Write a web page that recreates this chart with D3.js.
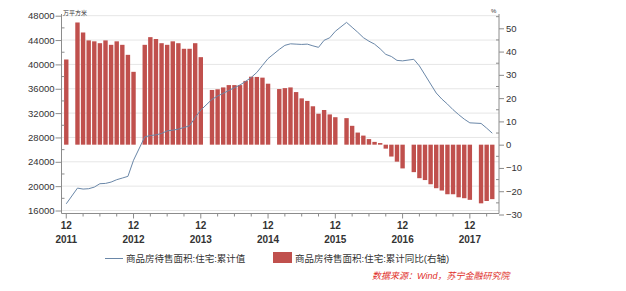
<!DOCTYPE html>
<html>
<head>
<meta charset="utf-8">
<script src="https://cdn.jsdelivr.net/npm/d3@7"></script>
<style>
  body { margin: 0; background: #fff; }
  svg { display: block; font-family: "Liberation Sans", Arial, "Noto Sans CJK SC", sans-serif; }
</style>
</head>
<body>
<div id="chart"></div>
<script>
// months: Dec 2011 .. Apr 2018 (Jan has no data, Jan+Feb are reported together)
const months = d3.timeMonth.range(new Date(2011, 11, 1), new Date(2018, 4, 1));

// 商品房待售面积:住宅:累计值 (万平方米)
const stock = [
  17100, null,
  19680, 19520, 19580, 19840, 20400, 20450, 20670, 21060, 21330, 21610, 24250, null,
  28090, 28320, 28420, 28650, 29080, 29200, 29360, 29640, 29910, 31270, 32490, null,
  34260, 34800, 35250, 35710, 36170, 36620, 37210, 37860, 38680, 39830, 40960, null,
  42460, 43130, 43380, 43330, 43280, 43330, 43050, 42800, 43960, 44370, 45440, null,
  46900, 46090, 45280, 44400, 43810, 43330, 42560, 41650, 41300, 40660, 40580, null,
  40840, 39750, 38270, 36780, 35300, 34310, 33480, 32560, 31750, 31010, 30400, null,
  30300, 29530, 28700
];

// 商品房待售面积:住宅:累计同比 (%, right axis)
const growth = [
  36.6, null,
  52.5, 48.2, 44.8, 44.4, 43.6, 44.8, 42.9, 44.4, 42.9, 38.6, 31.3, null,
  42.9, 46.2, 45.4, 43.6, 42.9, 44.4, 43.6, 41.2, 41.2, 43.6, 37.6, null,
  23.5, 23.8, 24.6, 25.6, 25.6, 25.6, 27.4, 29.2, 29.1, 28.8, 26.2, null,
  23.9, 24.3, 24.6, 22.6, 19.9, 18.8, 16.5, 13.3, 14.9, 13.0, 11.8, null,
  11.4, 8.1, 5.2, 3.9, 2.4, 1.2, 0.7, -1.7, -5.1, -7.3, -10.2, null,
  -11.8, -14.4, -15.2, -17.0, -18.7, -19.7, -21.3, -21.3, -22.6, -23.0, -23.7, null,
  -25.2, -24.2, -23.4
];

const leftTicks = [16000, 20000, 24000, 28000, 32000, 36000, 40000, 44000, 48000];
const rightTicks = [-30, -20, -10, 0, 10, 20, 30, 40, 50];
const legendLabels = ['商品房待售面积:住宅:累计值', '商品房待售面积:住宅:累计同比(右轴)'];
const sourceNote = '数据来源：Wind，苏宁金融研究院';

const data = months.map((m, i) => ({ date: m, i: i, stock: stock[i], growth: growth[i] }));

const W = 626, H = 291;
const plot = { left: 61.5, right: 499, top: 14, bottom: 213.5 };
const lineColor = '#6a87a8', barColor = '#c0504d', axisColor = '#8c8c8c', textColor = '#333';

const svg = d3.select('#chart').append('svg')
  .attr('width', W).attr('height', H);

// scales
const x = d3.scaleLinear().domain([-0.85, 77.2]).range([plot.left, plot.right]);
const yL = d3.scaleLinear().domain([16000, 48000]).range([210.5, 15.7]);
const yR = d3.scaleLinear().domain([-30, 50]).range([214.5, 28.3]);
const barW = 4.4;

// gridlines
svg.append('g').attr('class', 'grid')
  .selectAll('line').data(leftTicks).join('line')
  .attr('x1', plot.left).attr('x2', plot.right)
  .attr('y1', d => yL(d)).attr('y2', d => yL(d))
  .attr('stroke', '#e6e6e6').attr('stroke-width', 1);

// bars
svg.append('g').attr('class', 'bars')
  .selectAll('rect').data(data.filter(d => d.growth != null)).join('rect')
  .attr('x', d => x(d.i) - barW / 2)
  .attr('width', barW)
  .attr('y', d => Math.min(yR(d.growth), yR(0)))
  .attr('height', d => Math.abs(yR(d.growth) - yR(0)))
  .attr('fill', barColor);

// line (skips the missing January points, joining Dec to Feb)
const line = d3.line()
  .x(d => x(d.i))
  .y(d => yL(d.stock));
svg.append('path')
  .datum(data.filter(d => d.stock != null))
  .attr('d', line)
  .attr('fill', 'none')
  .attr('stroke', lineColor)
  .attr('stroke-width', 1);

// left axis
const leftAxis = d3.axisLeft(yL).tickValues(leftTicks).tickSize(6).tickPadding(1).tickFormat(d3.format('d'));
const gL = svg.append('g').attr('transform', `translate(${plot.left},0)`).call(leftAxis);
gL.select('.domain').remove();
gL.append('line').attr('y1', plot.top).attr('y2', plot.bottom).attr('stroke', axisColor);
gL.selectAll('.tick line').attr('stroke', axisColor);
gL.selectAll('.tick text').attr('fill', textColor).attr('font-size', 9.5)
  .attr('font-family', '"Liberation Sans", Arial, sans-serif');
gL.selectAll('.minor').data(d3.range(18000, 48000, 4000)).join('line')
  .attr('class', 'minor')
  .attr('x1', 0).attr('x2', 3)
  .attr('y1', d => yL(d)).attr('y2', d => yL(d))
  .attr('stroke', axisColor);

// right axis
const rightAxis = d3.axisRight(yR).tickValues(rightTicks).tickSize(5).tickPadding(2);
const gR = svg.append('g').attr('transform', `translate(${plot.right},0)`).call(rightAxis);
gR.select('.domain').remove();
gR.append('line').attr('y1', plot.top).attr('y2', plot.bottom).attr('stroke', axisColor);
gR.selectAll('.tick line').attr('stroke', axisColor);
gR.selectAll('.tick text').attr('fill', textColor).attr('font-size', 9.5)
  .attr('font-family', '"Liberation Sans", Arial, sans-serif');
gR.selectAll('.minor').data([-25, -15, -5, 5, 15, 25, 35, 45, 55]).join('line')
  .attr('class', 'minor')
  .attr('x1', -3).attr('x2', 0)
  .attr('y1', d => yR(d)).attr('y2', d => yR(d))
  .attr('stroke', axisColor);

// bottom axis: major ticks at every December, minor at quarters
const decIdx = data.filter(d => d.date.getMonth() === 11).map(d => d.i);
const qIdx = data.filter(d => d.date.getMonth() % 3 === 2 && d.date.getMonth() !== 11).map(d => d.i);
const gX = svg.append('g').attr('transform', `translate(0,${plot.bottom})`);
gX.append('line').attr('x1', plot.left).attr('x2', plot.right).attr('stroke', axisColor);
gX.selectAll('.major').data(decIdx).join('line')
  .attr('class', 'major')
  .attr('x1', d => x(d)).attr('x2', d => x(d))
  .attr('y1', 0).attr('y2', 5).attr('stroke', axisColor);
gX.selectAll('.minor').data(qIdx).join('line')
  .attr('class', 'minor')
  .attr('x1', d => x(d)).attr('x2', d => x(d))
  .attr('y1', 0).attr('y2', 3).attr('stroke', axisColor);
gX.selectAll('.mlab').data(decIdx).join('text')
  .attr('class', 'mlab')
  .attr('x', d => x(d)).attr('y', 15.5)
  .attr('text-anchor', 'middle')
  .attr('font-size', 10).attr('font-weight', 'bold').attr('fill', textColor)
  .text('12');
gX.selectAll('.ylab').data(decIdx).join('text')
  .attr('class', 'ylab')
  .attr('x', d => x(d)).attr('y', 29)
  .attr('text-anchor', 'middle')
  .attr('font-size', 10).attr('font-weight', 'bold').attr('fill', textColor)
  .text(d => months[d].getFullYear());

// units
svg.append('text').attr('x', 63).attr('y', 15).attr('font-size', 6).attr('fill', textColor).text('万平方米');
svg.append('text').attr('x', 491).attr('y', 13).attr('font-size', 6).attr('fill', textColor).text('%');

// legend
const lg = svg.append('g').attr('class', 'legend');
lg.append('line').attr('x1', 105).attr('x2', 123).attr('y1', 258.5).attr('y2', 258.5)
  .attr('stroke', lineColor).attr('stroke-width', 1);
lg.append('text').attr('x', 126).attr('y', 258.5).attr('dy', '0.35em')
  .attr('font-size', 9.5).attr('fill', textColor).text(legendLabels[0]);
lg.append('rect').attr('x', 273).attr('y', 252).attr('width', 19).attr('height', 11).attr('fill', barColor);
lg.append('text').attr('x', 295).attr('y', 258.5).attr('dy', '0.35em')
  .attr('font-size', 9.5).attr('fill', textColor).text(legendLabels[1]);

// source note
svg.append('text').attr('x', 372).attr('y', 276).attr('dy', '0.35em')
  .attr('font-size', 9).attr('font-style', 'italic').attr('fill', '#e0302a')
  .text(sourceNote);
</script>
</body>
</html>
